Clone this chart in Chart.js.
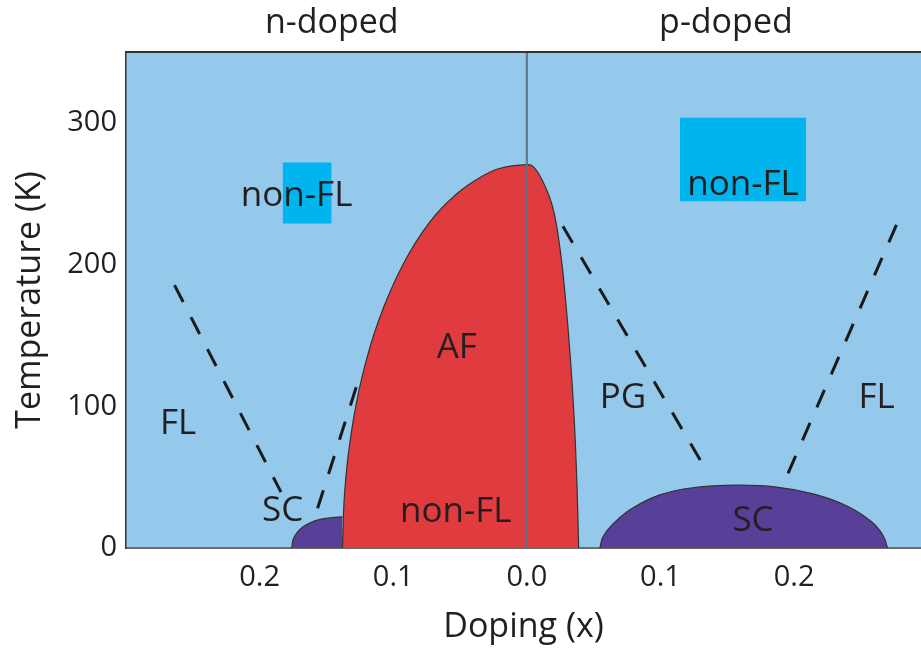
<!DOCTYPE html>
<html>
<head>
<meta charset="utf-8">
<script src="https://cdn.jsdelivr.net/npm/chart.js@4.4.1/dist/chart.umd.min.js"></script>
<style>
  html, body { margin: 0; padding: 0; background: #fff; }
  canvas { display: block; }
</style>
</head>
<body>
<canvas id="phaseChart" width="921" height="654"></canvas>
<script>
// doping: negative = n-doped side, positive = p-doped side
const xTicks = [-0.2, -0.1, 0, 0.1, 0.2];
const yTicks = [0, 100, 200, 300];

const afDoping = [-0.138, -0.1363, -0.1316, -0.1235, -0.1111, -0.0927, -0.0727, -0.0524, -0.0341, -0.0199, 0, 0.005, 0.012, 0.0195, 0.025, 0.029, 0.0325, 0.0355, 0.0375, 0.0388];
const afTemp   = [0, 40, 80, 120, 160, 200, 230, 250, 262, 268, 270.5, 269, 258.6, 240, 210, 175, 135, 90, 45, 0];

const scNDoping = [-0.176, -0.1745, -0.17, -0.163, -0.153, -0.138];
const scNTemp   = [0, 7, 13, 17.5, 20.5, 22];

const scPDoping = [0.0547, 0.057, 0.064, 0.078, 0.0996, 0.124, 0.157, 0.187, 0.215, 0.24, 0.258, 0.2665, 0.270];
const scPTemp   = [0, 8, 16.5, 27.5, 37.5, 42.5, 44.3, 43, 38, 29.5, 18.5, 9, 0];

const nFlDoping = [-0.2637, -0.184];
const nFlTemp   = [185.5, 39.4];
const nScDoping = [-0.1566, -0.1266];
const nScTemp   = [28, 116.7];
const pgDoping  = [0.027, 0.1356];
const pgTemp    = [227, 52.7];
const pFlDoping = [0.1955, 0.2794];
const pFlTemp   = [52.7, 234];

const nBoxDoping = [-0.1828, -0.1461];
const nBoxTemp   = [229, 272];
const pBoxDoping = [0.1146, 0.209];
const pBoxTemp   = [244.6, 303.6];

const regionNames = ["non-FL", "non-FL", "AF", "non-FL", "FL", "SC", "PG", "FL", "SC"];
const regionDoping = [-0.1723, 0.1618, -0.0524, -0.0532, -0.261, -0.1828, 0.0719, 0.2618, 0.1693];
const regionTemp   = [250, 258, 142.6, 27.4, 89, 27.8, 107.5, 107.5, 20.7];

const sideNames = ["n-doped", "p-doped"];
const sideDoping = [-0.146, 0.149];

const pts = (xs, ys) => xs.map((x, i) => ({ x: x, y: ys[i] }));
const textColor = "#231f20";
const font = "'Open Sans'";

const dashed = (xs, ys) => ({
  data: pts(xs, ys),
  borderColor: "#1a1a1a",
  borderWidth: 3,
  borderDash: [19, 17],
  pointRadius: 0,
  fill: false
});

const box = (xs, ys) => ({
  data: [{ x: xs[0], y: ys[1] }, { x: xs[1], y: ys[1] }],
  borderWidth: 0,
  borderColor: "rgba(0,0,0,0)",
  backgroundColor: "#00b4ee",
  pointRadius: 0,
  fill: { value: ys[0] }
});

const dome = (xs, ys, color) => ({
  data: pts(xs, ys),
  borderColor: "#333333",
  borderWidth: 1.2,
  backgroundColor: color,
  pointRadius: 0,
  tension: 0.4,
  fill: "origin"
});

const areaBackground = {
  id: "areaBackground",
  beforeDraw(chart) {
    const { ctx, chartArea: a } = chart;
    ctx.save();
    ctx.fillStyle = "#94c9ec";
    ctx.fillRect(a.left, a.top, a.right - a.left, a.bottom - a.top);
    ctx.restore();
  },
  afterDraw(chart) {
    const { ctx, chartArea: a, scales } = chart;
    ctx.save();
    ctx.strokeStyle = "#333";
    ctx.lineWidth = 2;
    ctx.beginPath();
    ctx.moveTo(a.left, a.top);
    ctx.lineTo(a.right, a.top);
    ctx.stroke();

    ctx.fillStyle = textColor;
    ctx.textAlign = "center";
    ctx.textBaseline = "alphabetic";
    ctx.font = "35px " + font;
    regionNames.forEach((t, i) => {
      const px = scales.x.getPixelForValue(regionDoping[i]);
      const py = scales.y.getPixelForValue(regionTemp[i]);
      ctx.fillText(t, px, py + 35 * 0.357);
    });
    ctx.font = "34px " + font;
    sideNames.forEach((t, i) => {
      ctx.fillText(t, scales.x.getPixelForValue(sideDoping[i]), 33);
    });
    ctx.restore();
  }
};

new Chart(document.getElementById("phaseChart"), {
  type: "line",
  data: {
    datasets: [
      {
        data: [{ x: 0, y: 0 }, { x: 0, y: 350 }],
        borderColor: "#5f7387",
        borderWidth: 2,
        pointRadius: 0,
        fill: false
      },
      dashed(nFlDoping, nFlTemp),
      dashed(nScDoping, nScTemp),
      dashed(pgDoping, pgTemp),
      dashed(pFlDoping, pFlTemp),
      dome(afDoping, afTemp, "#e03c3f"),
      dome(scNDoping, scNTemp, "#583f98"),
      dome(scPDoping, scPTemp, "#583f98"),
      box(nBoxDoping, nBoxTemp),
      box(pBoxDoping, pBoxTemp)
    ]
  },
  options: {
    responsive: false,
    animation: false,
    layout: { padding: { top: 52, right: 0, left: 0, bottom: 0 } },
    plugins: {
      legend: { display: false },
      tooltip: { enabled: false }
    },
    scales: {
      x: {
        type: "linear",
        min: -0.3,
        max: 0.295,
        afterBuildTicks: s => { s.ticks = xTicks.map(v => ({ value: v })); },
        afterFit: s => { s.height = 106; },
        ticks: {
          padding: 12,
          color: textColor,
          font: { family: font, size: 29 },
          callback: v => Math.abs(v).toFixed(1)
        },
        grid: { display: false, drawTicks: false },
        border: { display: true, color: "#6b6b6b", width: 2 },
        title: {
          display: true,
          text: "Doping (x)",
          color: textColor,
          font: { family: font, size: 34 },
          padding: { top: 0, bottom: 6 }
        }
      },
      y: {
        min: 0,
        max: 350,
        afterBuildTicks: s => { s.ticks = yTicks.map(v => ({ value: v })); },
        afterFit: s => { s.width = 126; },
        ticks: {
          padding: 9,
          color: textColor,
          font: { family: font, size: 29 }
        },
        grid: { display: false, drawTicks: false },
        border: { display: true, color: "#333", width: 1.5 },
        title: {
          display: true,
          text: "Temperature (K)",
          color: textColor,
          font: { family: font, size: 34 },
          padding: { top: 10, bottom: 0 }
        }
      }
    }
  },
  plugins: [areaBackground]
});
</script>
</body>
</html>
